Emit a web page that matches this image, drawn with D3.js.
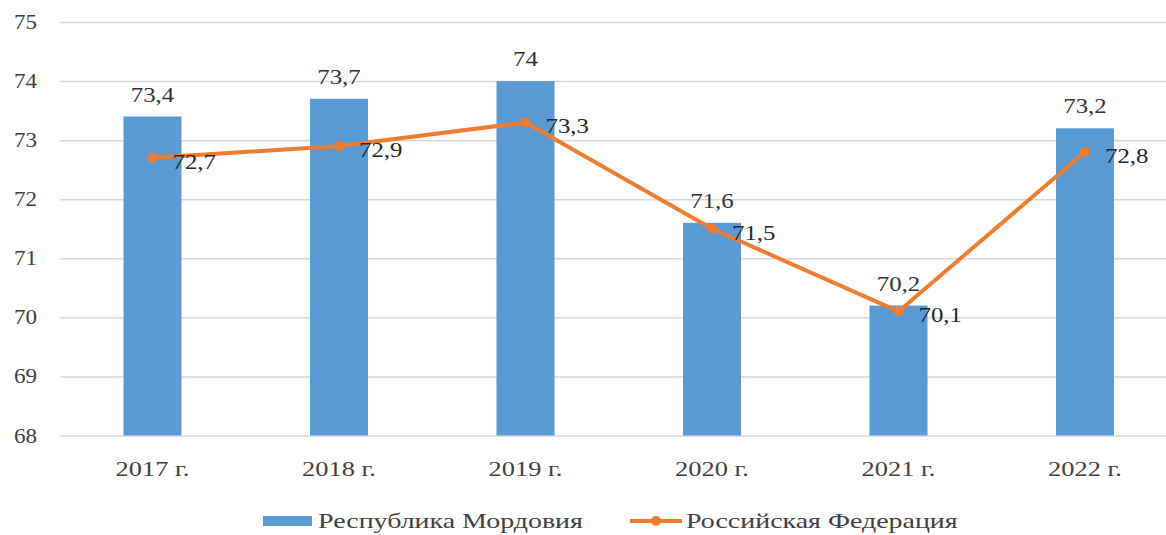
<!DOCTYPE html>
<html><head><meta charset="utf-8">
<script src="https://cdn.jsdelivr.net/npm/d3@7"></script>
</head><body>
<svg id="c" width="1166" height="535"></svg>
<script>
const categories = ["2017 г.","2018 г.","2019 г.","2020 г.","2021 г.","2022 г."];
const mordovia = [73.4, 73.7, 74, 71.6, 70.2, 73.2];
const russia = [72.7, 72.9, 73.3, 71.5, 70.1, 72.8];
const yTicks = [68,69,70,71,72,73,74,75];
const seriesNames = ["Республика Мордовия","Российская Федерация"];

d3.select("body").style("margin","0").style("background","#fff");
d3.select("#c").style("display","block");
const svg = d3.select("#c");
const FS = 22;
const fmt = v => String(v).replace(".", ",");

const x = d3.scaleBand().domain(categories).range([59.25, 1178.25]).paddingInner(0.689).paddingOuter(0.3445);
const y = d3.scaleLinear().domain([68,75]).range([435.5, 22]);

function txt(g, xx, yy, s, anchor, fill, sx) {
  return g.append("text")
    .attr("transform", `translate(${xx},${yy}) scale(${sx || 1.13},1)`)
    .attr("font-size", FS)
    .style("font-family", '"Liberation Serif"')
    .attr("text-anchor", anchor || "middle")
    .attr("fill", fill || "#333")
    .text(s);
}

// gridlines
const yAxis = d3.axisLeft(y).tickValues(yTicks).tickSize(-1120).tickFormat("");
const ga = svg.append("g").attr("transform","translate(60,0)").call(yAxis);
ga.select(".domain").remove();
ga.selectAll(".tick line").attr("stroke","#d9d9d9").attr("stroke-width",1.5);

// y labels
yTicks.forEach(t => txt(svg, 37, y(t)+7, String(t), "end", "#404040", 1.05));

// bars
svg.selectAll("rect.bar").data(mordovia).join("rect")
  .attr("class","bar")
  .attr("x",(d,i)=>x(categories[i]))
  .attr("width", x.bandwidth())
  .attr("y", d=>y(d))
  .attr("height", d=>y(68)-y(d))
  .attr("fill","#5b9bd5");

// bar labels
mordovia.forEach((d,i)=> txt(svg, x(categories[i])+x.bandwidth()/2, y(d)-15, fmt(d)));

// line
const cx = i => x(categories[i]) + x.bandwidth()/2;
const line = d3.line().x((d,i)=>cx(i)).y(d=>y(d));
svg.append("path").datum(russia).attr("d", line)
  .attr("fill","none").attr("stroke","#ed7d31").attr("stroke-width",4).attr("stroke-linejoin","round");
svg.selectAll("circle.pt").data(russia).join("circle")
  .attr("class","pt").attr("cx",(d,i)=>cx(i)).attr("cy",d=>y(d)).attr("r",5).attr("fill","#ed7d31");

// line labels
russia.forEach((d,i)=> txt(svg, cx(i)+20, y(d)+11, fmt(d), "start", "#262626"));

// x labels
categories.forEach((c,i)=> txt(svg, cx(i), 476, c, "middle", "#404040", 1.2));

// legend
const lg = svg.append("g");
lg.append("rect").attr("x",263).attr("y",516).attr("width",49).attr("height",10).attr("fill","#5b9bd5");
txt(lg, 318, 528, seriesNames[0], "start", "#404040", 1.27);
lg.append("line").attr("x1",630).attr("x2",682).attr("y1",521).attr("y2",521).attr("stroke","#ed7d31").attr("stroke-width",4);
lg.append("circle").attr("cx",656).attr("cy",521).attr("r",5).attr("fill","#ed7d31");
txt(lg, 686, 528, seriesNames[1], "start", "#404040", 1.27);
</script>
</body></html>
